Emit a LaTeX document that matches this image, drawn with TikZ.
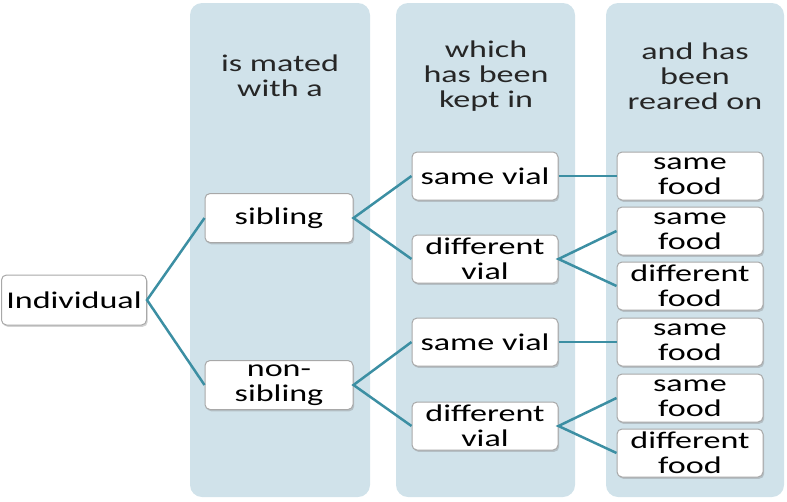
\documentclass[tikz,border=0pt]{standalone}
\usepackage{fontspec}
\setmainfont[FakeStretch=1.42]{Carlito}
\usetikzlibrary{shadows}
\definecolor{colbg}{HTML}{D0E2EA}
\definecolor{linkc}{HTML}{3C8FA3}
\definecolor{boxline}{HTML}{A8A8A8}
\begin{document}
\begin{tikzpicture}[x=1pt,y=-1pt,
  colbox/.style={fill=colbg,draw=none,rounded corners=12pt},
  itembox/.style={draw=boxline,line width=1pt,fill=white,rounded corners=5pt,
    minimum width=146pt,minimum height=48pt,inner sep=0pt,align=center,
    font=\fontsize{24}{25}\selectfont,
    drop shadow={opacity=0.35,shadow xshift=1.2pt,shadow yshift=-1.8pt}},
  headtxt/.style={align=center,font=\fontsize{24}{25}\selectfont,text=black!85},
  link/.style={draw=linkc,line width=2.5pt}]
\useasboundingbox (0,0) rectangle (787,501);
% columns
\fill[colbox] (190,3) rectangle (370,497);
\fill[colbox] (396,3) rectangle (575,497);
\fill[colbox] (606,3) rectangle (784,497);
% headers
\node[headtxt] (h1) at (280,76) {is mated\\with a};
\node[headtxt] (h2) at (486,76) {which\\has been\\kept in};
\node[headtxt] (h3) at (695,76) {and has\\been\\reared on};
% nodes
\node[itembox,minimum width=145pt,minimum height=50pt] (ind) at (74,300) {Individual};
\node[itembox,minimum width=148pt,minimum height=49pt] (sib) at (279,218) {sibling};
\node[itembox,minimum width=148pt,minimum height=49pt] (nsib) at (279,385) {non-\\sibling};
\node[itembox] (sv1) at (485,176) {same vial};
\node[itembox] (dv1) at (485,259) {different\\vial};
\node[itembox] (sv2) at (485,342) {same vial};
\node[itembox] (dv2) at (485,426) {different\\vial};
\node[itembox] (f1) at (690,176) {same\\food};
\node[itembox] (f2) at (690,231) {same\\food};
\node[itembox] (f3) at (690,286) {different\\food};
\node[itembox] (f4) at (690,342) {same\\food};
\node[itembox] (f5) at (690,398) {same\\food};
\node[itembox] (f6) at (690,453) {different\\food};
% connectors
\draw[link] (sib.west) -- (ind.east) -- (nsib.west);
\draw[link] (sv1.west) -- (sib.east) -- (dv1.west);
\draw[link] (sv2.west) -- (nsib.east) -- (dv2.west);
\draw[link] (sv1.east) -- (f1.west);
\draw[link] (f2.west) -- (dv1.east) -- (f3.west);
\draw[link] (sv2.east) -- (f4.west);
\draw[link] (f5.west) -- (dv2.east) -- (f6.west);
\end{tikzpicture}
\end{document}
